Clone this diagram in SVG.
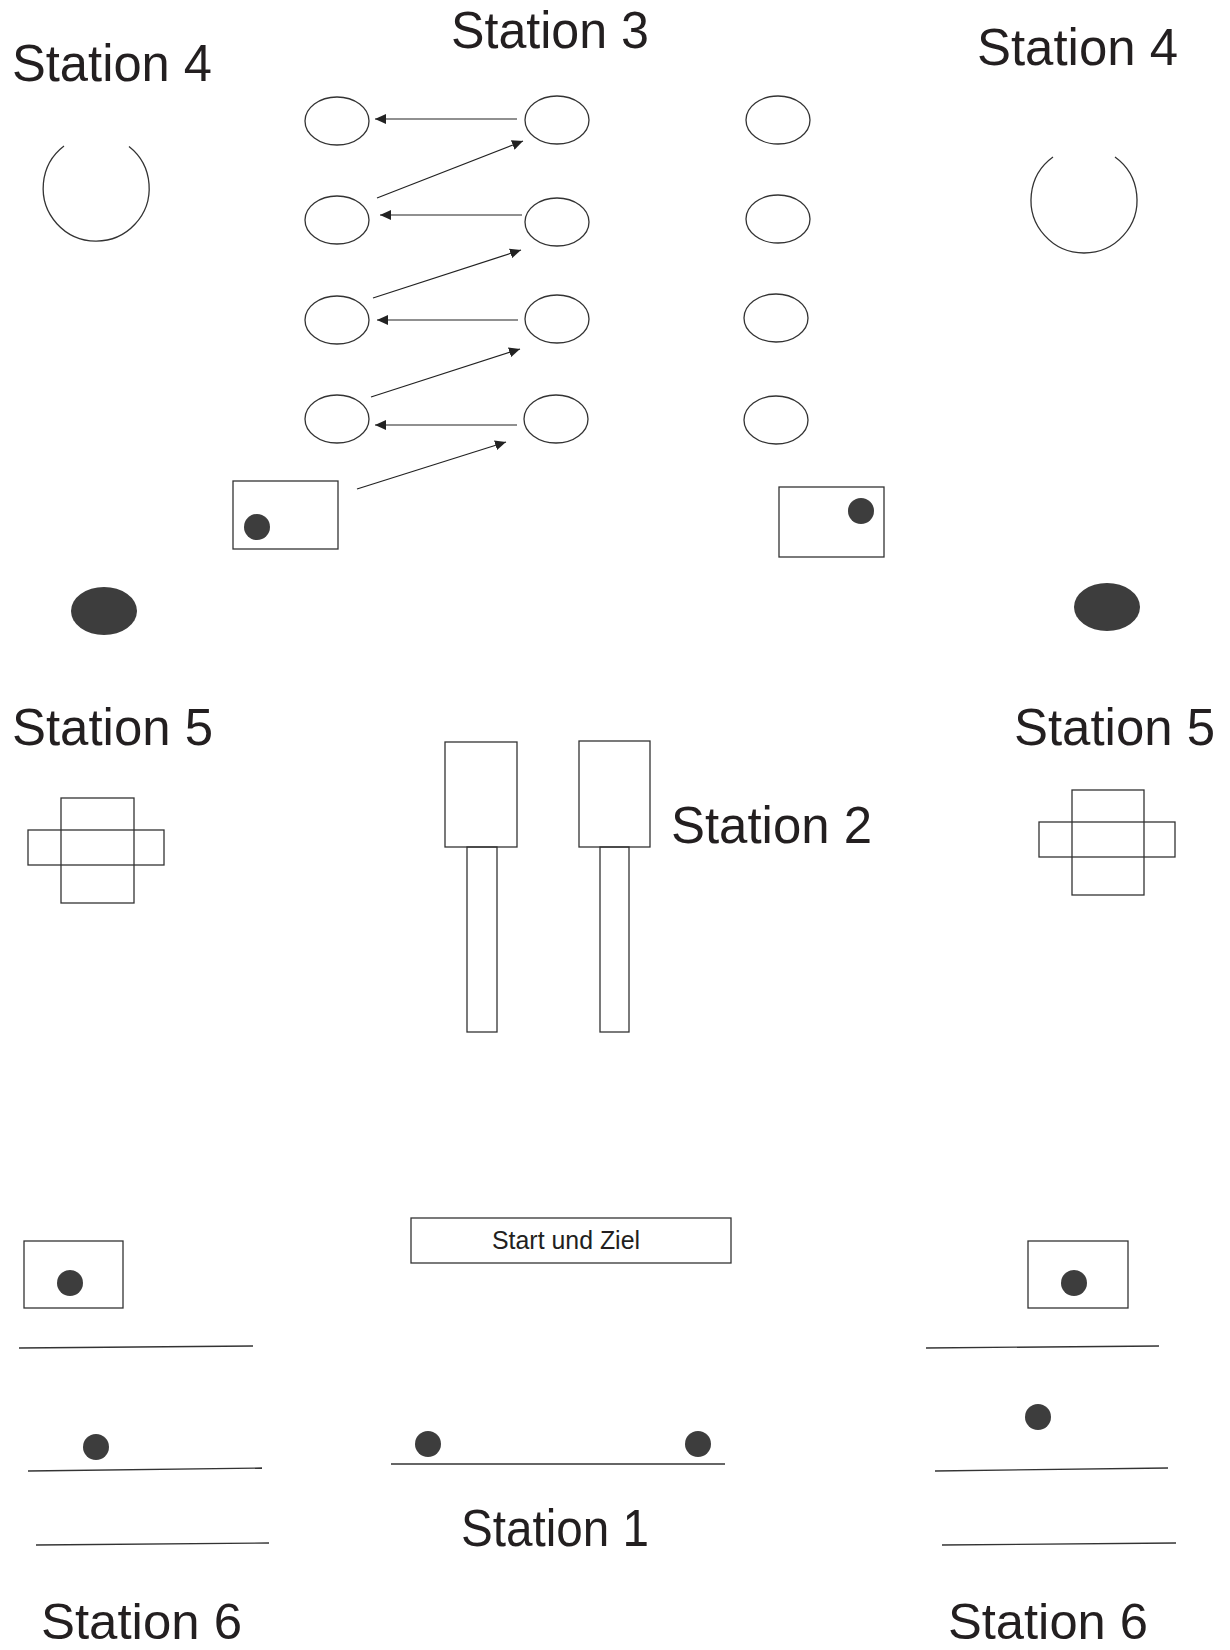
<svg xmlns="http://www.w3.org/2000/svg" width="1230" height="1650" viewBox="0 0 1230 1650">
<defs>
<marker id="ah" markerUnits="userSpaceOnUse" markerWidth="12" markerHeight="10" refX="11" refY="5" orient="auto">
<path d="M0,0 L11,5 L0,10 Z" fill="#222"/>
</marker>
<style>
.st{font-family:"Liberation Sans",Arial,sans-serif;font-size:52px;fill:#231f20}
.s6{font-family:"Liberation Sans",Arial,sans-serif;font-size:50px;fill:#231f20}
.sm{font-family:"Liberation Sans",Arial,sans-serif;font-size:25px;fill:#231f20}
.o{fill:none;stroke:#333;stroke-width:1.3}
.d{fill:#3d3d3d}
.ln{fill:none;stroke:#333;stroke-width:1.3}
.ar{fill:none;stroke:#222;stroke-width:1.2;marker-end:url(#ah)}
</style>
</defs>
<rect width="1230" height="1650" fill="#fff"/>

<g id="labels">
<text class="st" x="12" y="81" textLength="200" lengthAdjust="spacingAndGlyphs">Station 4</text>
<text class="st" x="451" y="48" textLength="198" lengthAdjust="spacingAndGlyphs">Station 3</text>
<text class="st" x="977" y="65" textLength="201" lengthAdjust="spacingAndGlyphs">Station 4</text>
<text class="st" x="12" y="745" textLength="201" lengthAdjust="spacingAndGlyphs">Station 5</text>
<text class="st" x="1014" y="745" textLength="201" lengthAdjust="spacingAndGlyphs">Station 5</text>
<text class="st" x="671" y="843" textLength="201" lengthAdjust="spacingAndGlyphs">Station 2</text>
<text class="st" x="461" y="1546" textLength="188" lengthAdjust="spacingAndGlyphs">Station 1</text>
<text class="s6" x="41" y="1639" textLength="201" lengthAdjust="spacingAndGlyphs">Station 6</text>
<text class="s6" x="948" y="1639" textLength="200" lengthAdjust="spacingAndGlyphs">Station 6</text>
</g>

<g id="station4-left">
<path class="o" d="M64,146 A53,53 0 1 0 129,146.5"/>
<ellipse class="d" cx="104" cy="611" rx="33" ry="24"/>
</g>
<g id="station4-right">
<path class="o" d="M1053,157 A53,53 0 1 0 1115,157"/>
<ellipse class="d" cx="1107" cy="607" rx="33" ry="24"/>
</g>

<g id="station3">
<ellipse class="o" cx="337" cy="121" rx="32" ry="24"/>
<ellipse class="o" cx="337" cy="220" rx="32" ry="24"/>
<ellipse class="o" cx="337" cy="320" rx="32" ry="24"/>
<ellipse class="o" cx="337" cy="419" rx="32" ry="24"/>
<ellipse class="o" cx="557" cy="120" rx="32" ry="24"/>
<ellipse class="o" cx="557" cy="222" rx="32" ry="24"/>
<ellipse class="o" cx="557" cy="319" rx="32" ry="24"/>
<ellipse class="o" cx="556" cy="419" rx="32" ry="24"/>
<ellipse class="o" cx="778" cy="120" rx="32" ry="24"/>
<ellipse class="o" cx="778" cy="219" rx="32" ry="24"/>
<ellipse class="o" cx="776" cy="318" rx="32" ry="24"/>
<ellipse class="o" cx="776" cy="420" rx="32" ry="24"/>
<rect class="o" x="233" y="481" width="105" height="68"/>
<circle class="d" cx="257" cy="527" r="13"/>
<rect class="o" x="779" y="487" width="105" height="70"/>
<circle class="d" cx="861" cy="511" r="13"/>
</g>

<g id="connectors">
<line class="ar" x1="517" y1="119" x2="375" y2="119"/>
<line class="ar" x1="522" y1="215" x2="380" y2="215"/>
<line class="ar" x1="518" y1="320" x2="377" y2="320"/>
<line class="ar" x1="517" y1="425" x2="375" y2="425"/>
<line class="ar" x1="377" y1="198" x2="523" y2="141"/>
<line class="ar" x1="373" y1="298" x2="521" y2="250"/>
<line class="ar" x1="371" y1="397" x2="520" y2="349"/>
<line class="ar" x1="357" y1="489" x2="506" y2="442"/>
</g>

<g id="station5-left">
<rect class="o" x="61" y="798" width="73" height="105"/>
<rect class="o" x="28" y="830" width="136" height="35"/>
</g>
<g id="station5-right">
<rect class="o" x="1072" y="790" width="72" height="105"/>
<rect class="o" x="1039" y="822" width="136" height="35"/>
</g>

<g id="station2">
<rect class="o" x="445" y="742" width="72" height="105"/>
<rect class="o" x="467" y="847" width="30" height="185"/>
<rect class="o" x="579" y="741" width="71" height="106"/>
<rect class="o" x="600" y="847" width="29" height="185"/>
</g>

<g id="start-ziel">
<rect class="o" x="411" y="1218" width="320" height="45"/>
<text class="sm" x="492" y="1249" textLength="148" lengthAdjust="spacingAndGlyphs">Start und Ziel</text>
</g>

<g id="station1">
<line class="ln" x1="391" y1="1464" x2="725" y2="1464"/>
<circle class="d" cx="428" cy="1444" r="13"/>
<circle class="d" cx="698" cy="1444" r="13"/>
</g>

<g id="station6-left">
<rect class="o" x="24" y="1241" width="99" height="67"/>
<circle class="d" cx="70" cy="1283" r="13"/>
<line class="ln" x1="19" y1="1348" x2="253" y2="1346"/>
<circle class="d" cx="96" cy="1447" r="13"/>
<line class="ln" x1="28" y1="1471" x2="262" y2="1468"/>
<line class="ln" x1="36" y1="1545" x2="269" y2="1543"/>
</g>
<g id="station6-right">
<rect class="o" x="1028" y="1241" width="100" height="67"/>
<circle class="d" cx="1074" cy="1283" r="13"/>
<line class="ln" x1="926" y1="1348" x2="1159" y2="1346"/>
<circle class="d" cx="1038" cy="1417" r="13"/>
<line class="ln" x1="935" y1="1471" x2="1168" y2="1468"/>
<line class="ln" x1="942" y1="1545" x2="1176" y2="1543"/>
</g>
</svg>
